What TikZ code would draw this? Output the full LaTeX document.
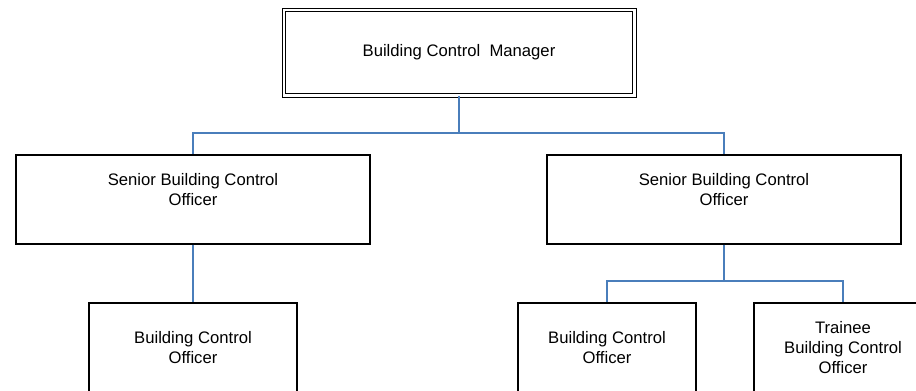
\documentclass[tikz,border=0pt]{standalone}
\usepackage{fontspec}
\setmainfont{Liberation Sans}
\definecolor{linkblue}{HTML}{4A7EBB}
\begin{document}
\begin{tikzpicture}[x=0.6pt,y=-0.6pt,
    post/.style={draw,line width=0.8pt,align=center,inner sep=0pt,
      font=\fontsize{10}{12}\selectfont,minimum height=53.4pt},
    link/.style={linkblue,line width=0.9pt}]
        \useasboundingbox (0,0) rectangle (916,390);
        \clip (0,0) rectangle (916,390);
        % top
        \node[post,double,double distance=1.5pt,line width=0.6pt,minimum width=210.3pt,minimum height=51.3pt]
          (mgr) at (459,52.5) {Building Control~~Manager};
        % seniors
        \node[post,minimum width=212.4pt](sbco1) at (193,199.5) {Senior Building Control\\Officer\\\mbox{}};
        \node[post,minimum width=212.4pt](sbco2) at (724,199.5) {Senior Building Control\\Officer\\\mbox{}};
        % officers
        \node[post,minimum width=124.8pt](bco1) at (193,347.5) {Building Control\\Officer};
        \node[post,minimum width=106.8pt](bco2) at (607,347.5) {Building Control\\Officer};
        \node[post,minimum width=106.8pt](tbco) at (843,347.5) {Trainee\\Building Control\\Officer};
        % links
        \coordinate (bus1) at (459,133);
        \coordinate (bus2) at (724,281);
        \draw[link](mgr.south)--(bus1)-|(sbco1.north);
        \draw[link](bus1)-|(sbco2.north);
        \draw[link](sbco1.south)--(bco1.north);
        \draw[link](sbco2.south)--(bus2)-|(bco2.north);
        \draw[link](bus2)-|(tbco.north);
\end{tikzpicture}
\end{document}
